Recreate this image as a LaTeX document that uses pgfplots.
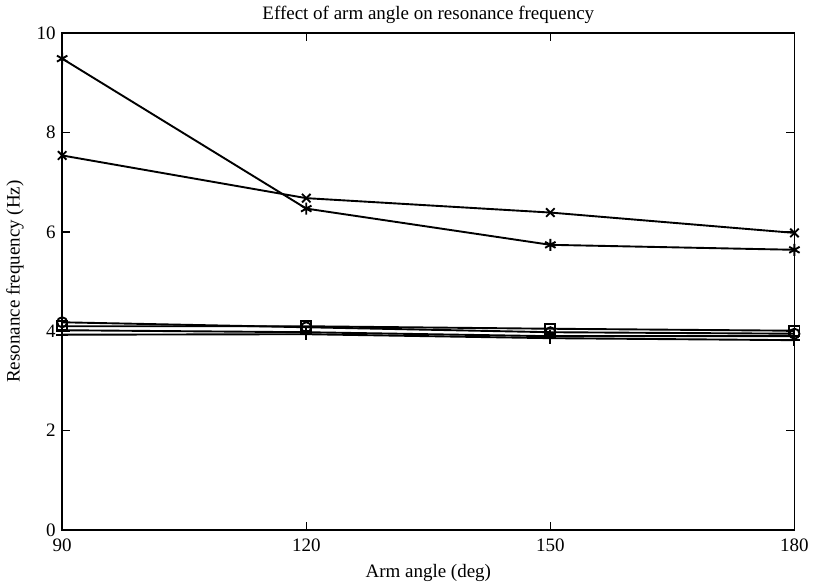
\documentclass[border=0pt]{standalone}
\usepackage{pgfplots}
\pgfplotsset{compat=1.18}
\usepackage{fontspec}
\setmainfont{Liberation Serif}
\begin{document}
\fontsize{19}{22}\selectfont
\begin{tikzpicture}
\begin{axis}[
  scale only axis,
  width=730bp, height=495bp,
  xmin=90, xmax=180, ymin=0, ymax=10,
  xtick={90,120,150,180},
  ytick={0,2,4,6,8,10},
  tick align=inside,
  major tick length=8bp,
  tick style={line width=1.5pt, black},
  axis line style={line width=1.8pt},
  /pgf/number format/assume math mode=true,
  ticklabel style={font=\fontsize{19}{22}\selectfont},
  xticklabel style={yshift=-2bp},
  label style={font=\fontsize{19}{22}\selectfont},
  title style={font=\fontsize{19}{22}\selectfont, yshift=-3bp},
  title={Effect of arm angle on resonance frequency},
  xlabel={Arm angle (deg)},
  ylabel={Resonance frequency (Hz)},
  every axis plot/.append style={line width=1.9pt, black, mark size=6bp, mark options={solid, line width=1.9pt}},
]
% upper branch with starred marks
\addplot[mark=asterisk] coordinates {(90,9.49) (120,6.47) (150,5.74) (180,5.64)};
% upper branch with crosses
\addplot[mark=x] coordinates {(90,7.54) (120,6.68) (150,6.39) (180,5.98)};
% lower group
\addplot[mark=o, mark size=5bp] coordinates {(90,4.18) (120,4.08) (150,3.98) (180,3.95)};
\addplot[mark=square, mark size=5bp] coordinates {(90,4.10) (120,4.10) (150,4.05) (180,4.01)};
\addplot[mark=+] coordinates {(90,4.02) (120,3.98) (150,3.90) (180,3.90)};
\addplot[mark=+] coordinates {(90,3.93) (120,3.94) (150,3.86) (180,3.82)};
\end{axis}
\end{tikzpicture}
\end{document}
